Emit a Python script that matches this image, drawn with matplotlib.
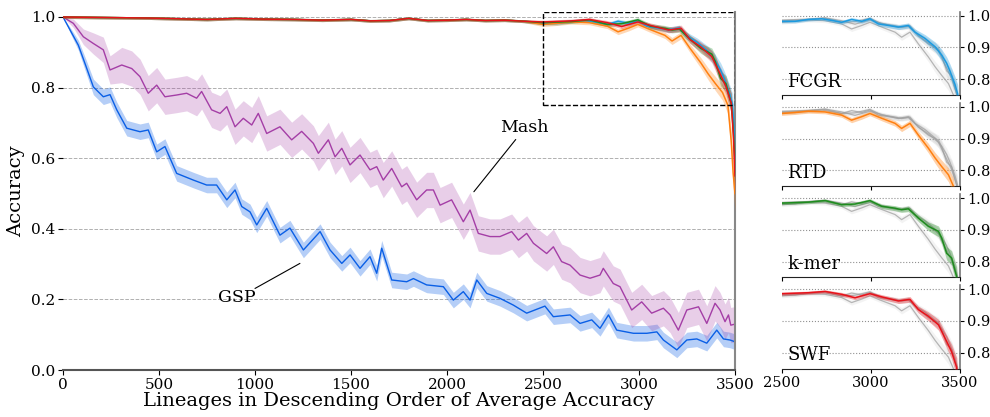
import numpy as np
import matplotlib
matplotlib.use("Agg")
import matplotlib.pyplot as plt
from matplotlib.patches import Rectangle

plt.rcParams['font.family'] = ['DejaVu Serif']

gsp_x = [0, 40, 80, 120, 158, 210, 245, 280, 332, 401, 444, 488, 531, 592, 679, 748, 800,
         853, 896, 931, 974, 1009, 1061, 1130, 1182, 1252, 1339, 1391, 1452, 1495, 1547,
         1599, 1634, 1660, 1712, 1790, 1825, 1894, 1981, 2033, 2085, 2120, 2155, 2207,
         2276, 2345, 2415, 2510, 2554, 2641, 2693, 2754, 2797, 2841, 2884, 2971, 3041,
         3093, 3127, 3197, 3249, 3301, 3353, 3405, 3440, 3474, 3500]
gsp_y = [1.0, 0.96, 0.92, 0.86, 0.802, 0.774, 0.78, 0.737, 0.685, 0.675, 0.68, 0.618, 0.633,
         0.557, 0.538, 0.524, 0.524, 0.482, 0.51, 0.463, 0.448, 0.411, 0.458, 0.382, 0.402,
         0.34, 0.392, 0.34, 0.302, 0.326, 0.288, 0.321, 0.274, 0.345, 0.255, 0.25, 0.259,
         0.241, 0.236, 0.198, 0.222, 0.198, 0.255, 0.217, 0.203, 0.184, 0.161, 0.181, 0.151,
         0.156, 0.132, 0.142, 0.118, 0.156, 0.113, 0.104, 0.104, 0.108, 0.085, 0.057, 0.085,
         0.088, 0.076, 0.113, 0.088, 0.085, 0.08]
# band half-width: thin at the start, then roughly constant
gsp_spread = [0.0, 0.008, 0.014, 0.019] + [0.022] * (len(gsp_x) - 4)

mash_x = [0, 54, 106, 158, 210, 245, 306, 358, 401, 444, 488, 531, 592, 644, 696, 722, 774,
          818, 853, 896, 939, 983, 1017, 1061, 1130, 1191, 1243, 1304, 1330, 1382, 1417,
          1452, 1495, 1547, 1599, 1634, 1668, 1712, 1764, 1790, 1842, 1894, 1929, 1964,
          2024, 2085, 2120, 2163, 2224, 2276, 2337, 2372, 2415, 2450, 2519, 2554, 2597,
          2641, 2693, 2745, 2797, 2814, 2866, 2901, 2962, 3014, 3066, 3127, 3162, 3205,
          3249, 3310, 3353, 3396, 3422, 3448, 3466, 3478, 3500]
mash_y = [1.0, 0.982, 0.944, 0.925, 0.907, 0.85, 0.864, 0.854, 0.831, 0.784, 0.807, 0.774,
          0.779, 0.784, 0.77, 0.789, 0.737, 0.727, 0.746, 0.689, 0.713, 0.694, 0.727, 0.67,
          0.689, 0.652, 0.676, 0.642, 0.614, 0.652, 0.604, 0.628, 0.581, 0.609, 0.567, 0.576,
          0.538, 0.571, 0.519, 0.529, 0.482, 0.51, 0.51, 0.467, 0.482, 0.42, 0.453, 0.387,
          0.378, 0.378, 0.392, 0.368, 0.387, 0.359, 0.33, 0.349, 0.307, 0.297, 0.269, 0.26,
          0.269, 0.288, 0.245, 0.236, 0.17, 0.193, 0.161, 0.175, 0.156, 0.113, 0.17, 0.179,
          0.132, 0.189, 0.17, 0.137, 0.156, 0.127, 0.13]
mash_spread = [0.0, 0.012, 0.022, 0.03, 0.036, 0.04] + [0.05] * (len(mash_x) - 6)

# the four near-perfect methods share the same early stretch
head_x = [0, 150, 300, 450, 600, 750, 900, 1050, 1200, 1350, 1500, 1600, 1700, 1800, 1900,
          2000, 2100, 2200, 2300, 2400]
head_y = [1.0, 0.999, 0.998, 0.997, 0.995, 0.993, 0.996, 0.994, 0.993, 0.991, 0.993, 0.989,
          0.99, 0.996, 0.99, 0.991, 0.993, 0.99, 0.991, 0.988]
head_spread = 0.004

fcgr_x = [2500, 2573, 2648, 2723, 2779, 2835, 2891, 2948, 2994, 3041, 3097, 3154, 3210,
          3247, 3304, 3360, 3397, 3425, 3444, 3472, 3487, 3495, 3500]
fcgr_y = [0.982, 0.982, 0.988, 0.990, 0.985, 0.979, 0.988, 0.982, 0.990, 0.974, 0.969,
          0.964, 0.969, 0.948, 0.928, 0.902, 0.876, 0.85, 0.825, 0.783, 0.753, 0.68, 0.6]
fcgr_spread = [0.005, 0.005, 0.005, 0.005, 0.006, 0.006, 0.006, 0.006, 0.006, 0.007, 0.007,
               0.008, 0.008, 0.01, 0.012, 0.015, 0.018, 0.02, 0.022, 0.025, 0.03, 0.04, 0.05]

rtd_x = [2500, 2573, 2648, 2742, 2835, 2891, 2948, 2994, 3060, 3135, 3172, 3219, 3266, 3322,
         3360, 3397, 3435, 3463, 3480, 3490, 3500]
rtd_y = [0.979, 0.982, 0.986, 0.984, 0.974, 0.958, 0.969, 0.979, 0.964, 0.948, 0.932, 0.948,
         0.911, 0.87, 0.839, 0.812, 0.786, 0.75, 0.65, 0.56, 0.5]
rtd_spread = [0.006, 0.006, 0.006, 0.006, 0.007, 0.008, 0.008, 0.007, 0.008, 0.009, 0.01,
              0.01, 0.012, 0.015, 0.017, 0.02, 0.022, 0.025, 0.035, 0.045, 0.05]

kmer_x = [2500, 2648, 2742, 2835, 2910, 2994, 3060, 3135, 3172, 3210, 3266, 3322, 3379,
          3397, 3425, 3453, 3481, 3492, 3500]
kmer_y = [0.984, 0.987, 0.992, 0.979, 0.981, 0.992, 0.974, 0.968, 0.963, 0.966, 0.937,
          0.911, 0.895, 0.874, 0.826, 0.811, 0.753, 0.67, 0.58]
kmer_spread = [0.005, 0.005, 0.005, 0.006, 0.006, 0.006, 0.007, 0.008, 0.008, 0.009, 0.011,
               0.014, 0.017, 0.019, 0.021, 0.023, 0.03, 0.04, 0.05]

swf_x = [2500, 2648, 2742, 2835, 2910, 2994, 3060, 3154, 3219, 3266, 3322, 3379, 3416,
         3453, 3481, 3492, 3500]
swf_y = [0.986, 0.989, 0.993, 0.984, 0.973, 0.986, 0.976, 0.963, 0.968, 0.936, 0.915,
         0.888, 0.846, 0.803, 0.755, 0.66, 0.55]
swf_spread = [0.005, 0.005, 0.005, 0.006, 0.006, 0.006, 0.007, 0.008, 0.009, 0.011, 0.014,
              0.017, 0.02, 0.023, 0.03, 0.04, 0.05]

methods = ['FCGR', 'RTD', 'k-mer', 'SWF']
colours = {'FCGR': '#1b9ae0', 'RTD': '#ff8010', 'k-mer': '#1e8c1e', 'SWF': '#e8121a',
           'GSP': '#0a5fe6', 'Mash': '#a43ea6'}


def full_series(tail_x, tail_y, tail_spread):
    x = np.array(head_x + tail_x, dtype=float)
    y = np.array(head_y + tail_y)
    s = np.array([head_spread] * len(head_x) + tail_spread)
    return x, y, s


series = {
    'FCGR': full_series(fcgr_x, fcgr_y, fcgr_spread),
    'RTD': full_series(rtd_x, rtd_y, rtd_spread),
    'k-mer': full_series(kmer_x, kmer_y, kmer_spread),
    'SWF': full_series(swf_x, swf_y, swf_spread),
}


def plot_band(ax, x, y, s, colour, band_alpha=0.3, lw=1.0, zorder=2, line_alpha=1.0):
    x = np.asarray(x, dtype=float)
    y = np.asarray(y)
    s = np.asarray(s)
    ax.fill_between(x, y - s, np.minimum(y + s, 1.0), color=colour, alpha=band_alpha,
                    lw=0, zorder=zorder)
    ax.plot(x, y, color=colour, lw=lw, alpha=line_alpha, zorder=zorder + 0.5)


# ....... Figure ........
W, H = 990, 417
fig = plt.figure(figsize=(W / 100, H / 100), dpi=100)

ax = fig.add_axes([63 / W, 1 - 370 / H, 672 / W, (370 - 11.7) / H])

plot_band(ax, gsp_x, gsp_y, gsp_spread, colours['GSP'], band_alpha=0.3)
plot_band(ax, mash_x, mash_y, mash_spread, colours['Mash'], band_alpha=0.25)
for m in methods:
    x, y, s = series[m]
    plot_band(ax, x, y, s, colours[m], band_alpha=0.3, lw=1.1, zorder=3)

ax.add_patch(Rectangle((2500, 0.75), 1000, 0.263, fill=False, ls='--', lw=1.0,
                       ec='k', zorder=5))

ax.set_xlim(0, 3500)
ax.set_ylim(0, 1.015)
ax.set_xticks(np.arange(0, 3501, 500))
ax.set_yticks(np.linspace(0, 1, 6))
ax.set_yticklabels([f'{v:.1f}' for v in np.linspace(0, 1, 6)])
for v in np.linspace(0.2, 1.0, 5):
    ax.axhline(v, color='#b0b0b0', ls='--', lw=0.7, zorder=0)

ax.spines['top'].set_visible(False)
ax.spines['left'].set_visible(False)
ax.spines['bottom'].set_color('#555555')
ax.spines['bottom'].set_linewidth(1.5)
ax.spines['right'].set_color('#888888')
ax.spines['right'].set_linewidth(1.5)
ax.tick_params(axis='both', labelsize=11, length=3.5, pad=2)
ax.set_xlabel('Lineages in Descending Order of Average Accuracy', fontsize=14, labelpad=0)
ax.set_ylabel('Accuracy', fontsize=14, labelpad=4)

# labels with plain leader lines
ax.text(2401, 0.687, 'Mash', fontsize=12.5, ha='center', va='center')
ax.annotate('', xy=(2140, 0.505), xytext=(2358, 0.653),
            arrowprops=dict(arrowstyle='-', color='k', lw=0.8, shrinkA=0, shrinkB=0))
ax.text(904, 0.205, 'GSP', fontsize=12.5, ha='center', va='center')
ax.annotate('', xy=(1234, 0.302), xytext=(1000, 0.231),
            arrowprops=dict(arrowstyle='-', color='k', lw=0.8, shrinkA=0, shrinkB=0))

# ....... Zoomed panels ........
panel_h = 83.5
panel_gap = 7.7
for i, m in enumerate(methods):
    top = 11.5 + i * (panel_h + panel_gap)
    pax = fig.add_axes([782 / W, 1 - (top + panel_h) / H, 178 / W, panel_h / H])
    for other in methods:
        if other == m:
            continue
        x, y, s = series[other]
        plot_band(pax, x, y, s, '#a0a0a0', band_alpha=0.12, lw=0.9, zorder=2,
                  line_alpha=0.75)
    x, y, s = series[m]
    plot_band(pax, x, y, s, colours[m], band_alpha=0.35, lw=1.1, zorder=4)

    pax.set_xlim(2500, 3500)
    pax.set_ylim(0.75, 1.013)
    pax.set_xticks([2500, 3000, 3500])
    pax.set_yticks([0.8, 0.9, 1.0])
    pax.set_yticklabels(['0.8', '0.9', '1.0'])
    for v in [0.8, 0.9, 1.0]:
        pax.axhline(v, color='#909090', ls=':', lw=0.8, zorder=0)
    pax.yaxis.tick_right()
    pax.spines['top'].set_visible(False)
    pax.spines['left'].set_visible(False)
    pax.spines['bottom'].set_color('#222222')
    pax.spines['right'].set_color('#777777')
    pax.spines['right'].set_linewidth(1.2)
    pax.tick_params(axis='both', labelsize=10.5, length=3, pad=2)
    if i < len(methods) - 1:
        pax.set_xticklabels([])
    pax.text(0.03, 0.05, m, transform=pax.transAxes, fontsize=13,
             ha='left', va='bottom', zorder=6)

fig.savefig('out.png', dpi=100)
